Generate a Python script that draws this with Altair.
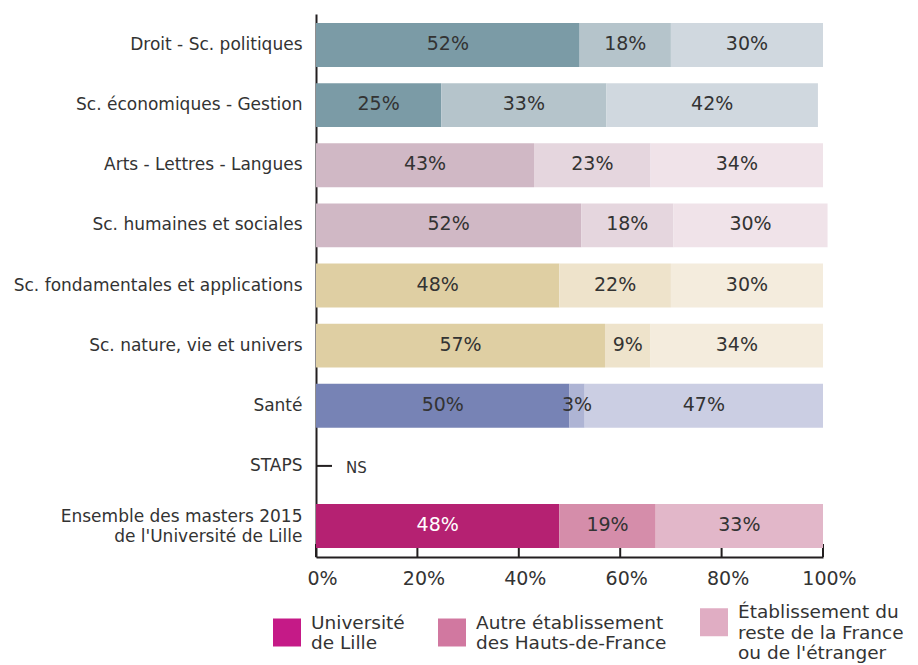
import altair as alt
import pandas as pd

# ---- data ----
categories = [
    "Droit - Sc. politiques",
    "Sc. économiques - Gestion",
    "Arts - Lettres - Langues",
    "Sc. humaines et sociales",
    "Sc. fondamentales et applications",
    "Sc. nature, vie et univers",
    "Santé",
    "STAPS",
    "Ensemble des masters 2015|de l'Université de Lille",
]
univ_lille = [52, 24.7, 43, 52.3, 48, 57, 50, None, 48]
autre_hdf = [18, 32.6, 23, 18.2, 22, 9, 3, None, 19]
reste_france = [30, 41.7, 34, 30.4, 30, 34, 47, None, 33]
ns_rows = ["STAPS"]

origins = [
    "Université|de Lille",
    "Autre établissement|des Hauts-de-France",
    "Établissement du|reste de la France|ou de l'étranger",
]
x_ticks = [0, 20, 40, 60, 80, 100]

# ---- styles ----
pal_blue = ["#7B9BA6", "#B5C4CB", "#D0D8DF"]
pal_rose = ["#D0B8C5", "#E5D6DE", "#F0E3E9"]
pal_sand = ["#DFCFA3", "#EEE3CB", "#F4ECDD"]
pal_indigo = ["#7783B5", "#AEB4D4", "#CBCEE3"]
pal_magenta = ["#B52172", "#D58DAA", "#E2B7C9"]
row_palettes = [pal_blue, pal_blue, pal_rose, pal_rose, pal_sand, pal_sand,
                pal_indigo, None, pal_magenta]
legend_colors = ["#C51A87", "#D178A0", "#E0ADC3"]
TEXT = "#333333"
AXIS = "#231F20"
FONT = "DejaVu Sans"

rows = []
for i, cat in enumerate(categories):
    vals = [univ_lille[i], autre_hdf[i], reste_france[i]]
    if vals[0] is None:
        continue
    start = 0.0
    for j, v in enumerate(vals):
        rows.append(dict(cat=cat, seg=j, start=start, end=start + v,
                         mid=start + v / 2, value=v,
                         fill=row_palettes[i][j]))
        start += v
df = pd.DataFrame(rows)

W, H = 507, 543

y_enc = alt.Y(
    "cat:N", sort=categories, title=None,
    scale=alt.Scale(domain=categories, paddingInner=0.27, paddingOuter=0.15),
    axis=alt.Axis(
        labelExpr="split(datum.label, '|')", labelFontSize=17,
        labelColor=TEXT, labelFont=FONT, labelPadding=14,
        labelLimit=0, ticks=False, domainColor=AXIS,
        domainWidth=2, labelLineHeight=20,
        labelBaseline=alt.condition(
            "indexof(datum.value, 'Ensemble') == 0",
            alt.value("bottom"), alt.value("middle")),
    ),
)
x_enc = alt.X(
    "start:Q", title=None,
    scale=alt.Scale(domain=[0, 100], nice=False, zero=True),
    axis=alt.Axis(values=x_ticks, labelExpr="datum.value + '%'",
                  labelFontSize=19, labelColor=TEXT, labelFont=FONT,
                  ticks=False, grid=False, domainColor=AXIS, domainWidth=2,
                  labelPadding=12, labelOffset=6, labelFlush=False),
)

tick_df = pd.DataFrame({"t": x_ticks})
ticks = alt.Chart(tick_df).mark_rule(color=AXIS, strokeWidth=2).encode(
    x=alt.X("t:Q"), y=alt.value(H - 13), y2=alt.value(H)
)

bars = alt.Chart(df).mark_bar(cornerRadius=0).encode(
    x=x_enc, x2="end:Q", y=y_enc,
    color=alt.Color("fill:N", scale=None),
)

labels = alt.Chart(df).transform_calculate(
    label="format(datum.value, '.0f') + '%'"
).mark_text(fontSize=19, font=FONT, baseline="middle", dy=-1).encode(
    x="mid:Q", y=alt.Y("cat:N", sort=categories),
    text="label:N",
    color=alt.condition(
        "datum.seg == 0 && indexof(datum.cat, 'Ensemble') == 0",
        alt.value("white"), alt.value(TEXT)),
)

ns_df = pd.DataFrame({"cat": ns_rows, "txt": ["NS"] * len(ns_rows)})
ns_tick = alt.Chart(ns_df).mark_rule(color=AXIS, strokeWidth=2).encode(
    y=alt.Y("cat:N", sort=categories), x=alt.value(0), x2=alt.value(16)
)
ns_text = alt.Chart(ns_df).mark_text(
    align="left", baseline="middle", fontSize=15, font=FONT, color=TEXT, dy=2
).encode(y=alt.Y("cat:N", sort=categories), x=alt.value(30), text="txt:N")

leg_df = pd.DataFrame({"origin": origins})
legend_layer = alt.Chart(leg_df).mark_square(opacity=0).encode(
    x=alt.value(0), y=alt.value(0),
    fill=alt.Fill(
        "origin:N",
        scale=alt.Scale(domain=origins, range=legend_colors),
        legend=alt.Legend(
            title=None, orient="none", legendX=-43, legendY=594,
            direction="horizontal", columns=3, symbolType="square",
            symbolSize=784, symbolStrokeWidth=0, symbolOpacity=1,
            labelExpr="split(datum.label, '|')", labelFontSize=18.5,
            labelFont=FONT, labelColor=TEXT, labelLimit=0,
            labelOffset=10, columnPadding=33, labelBaseline="bottom",
        ),
    ),
)

chart = alt.layer(ticks, bars, labels, ns_tick, ns_text, legend_layer).properties(
    width=W, height=H,
    padding={"left": 5, "top": 3, "right": 0, "bottom": 0},
).configure(font=FONT).configure_view(stroke=None)

chart.save("out.html", embed_options={"renderer": "svg", "actions": False})
